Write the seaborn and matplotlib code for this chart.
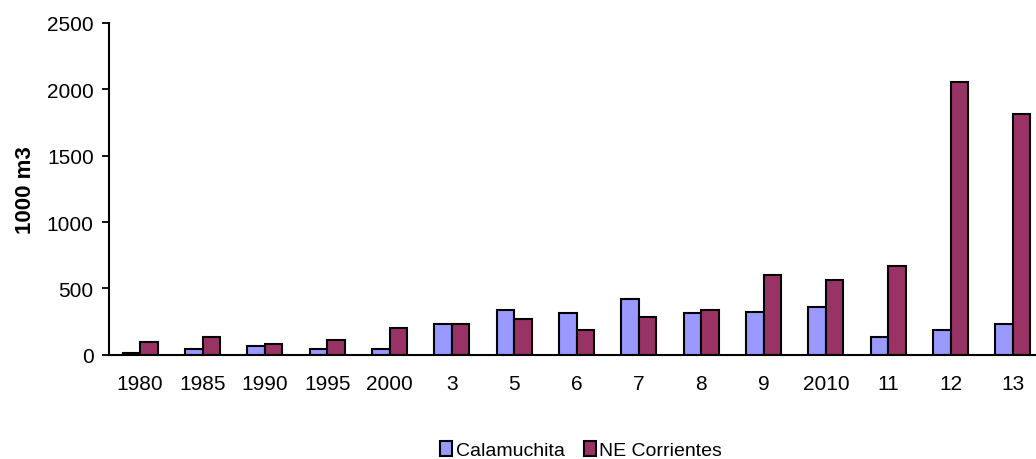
import numpy as np
import pandas as pd
import matplotlib
matplotlib.use('Agg')
import matplotlib.pyplot as plt
import seaborn as sns

# 데이터 (그림에서 읽은 값, 단위 1000 m3)
years = ['1980', '1985', '1990', '1995', '2000', '3', '5', '6', '7', '8',
         '9', '2010', '11', '12', '13']
calamuchita = [15, 43, 68, 43, 43, 229, 337, 312, 418, 312, 322, 362, 133, 186, 229]
ne_corrientes = [95, 136, 81, 109, 201, 229, 269, 189, 282, 337, 604, 563, 669, 2057, 1815]
series_names = ['Calamuchita', 'NE Corrientes']
colors = ['#9999FF', '#993366']

if __name__ == "__main__":
    df = pd.DataFrame({
        'year': years * 2,
        'value': calamuchita + ne_corrientes,
        'series': [series_names[0]] * len(years) + [series_names[1]] * len(years),
    })

    sns.set_style('white')
    plt.rcParams['font.family'] = ['Liberation Sans', 'DejaVu Sans']
    plt.rcParams['text.color'] = 'black'
    plt.rcParams['axes.labelcolor'] = 'black'
    plt.rcParams['xtick.color'] = 'black'
    plt.rcParams['ytick.color'] = 'black'

    fig = plt.figure(figsize=(10.36, 4.6), dpi=100)
    ax = fig.add_axes([109 / 1036, 1 - 355.7 / 460, 935 / 1036, 331.7 / 460])

    sns.barplot(data=df, x='year', y='value', hue='series', order=years,
                hue_order=series_names, palette=colors, width=0.56,
                edgecolor='black', linewidth=1.5, saturation=1, ax=ax)

    ax.set_ylim(0, 2500)
    ax.set_xlim(-0.5, len(years) - 0.5)
    ax.set_yticks([0, 500, 1000, 1500, 2000, 2500])
    ax.set_ylabel('1000 m3', fontsize=16, fontweight='bold', labelpad=8)
    ax.set_xlabel('')

    # 눈금: x축은 범주 경계에 표시
    ax.set_xticks(np.arange(-0.5, len(years)), minor=True)
    ax.tick_params(axis='x', which='major', length=0, labelsize=15, pad=14)
    ax.tick_params(axis='x', which='minor', length=6, width=1.3, direction='out')
    ax.tick_params(axis='y', length=5, width=1.3, direction='out', labelsize=15, left=True, pad=6)

    sns.despine(ax=ax)
    for side in ['left', 'bottom']:
        ax.spines[side].set_color('black')
        ax.spines[side].set_linewidth(1.5)

    ax.legend_.remove()
    handles, labels = ax.get_legend_handles_labels()
    fig.legend(handles, labels, loc='center', bbox_to_anchor=(0.561, 0.02),
               bbox_transform=fig.transFigure, ncol=2, frameon=False,
               fontsize=14, handlelength=0.6, handleheight=0.8,
               handletextpad=0.2, columnspacing=1.0, borderpad=0)

    fig.savefig('out.png', dpi=100)
